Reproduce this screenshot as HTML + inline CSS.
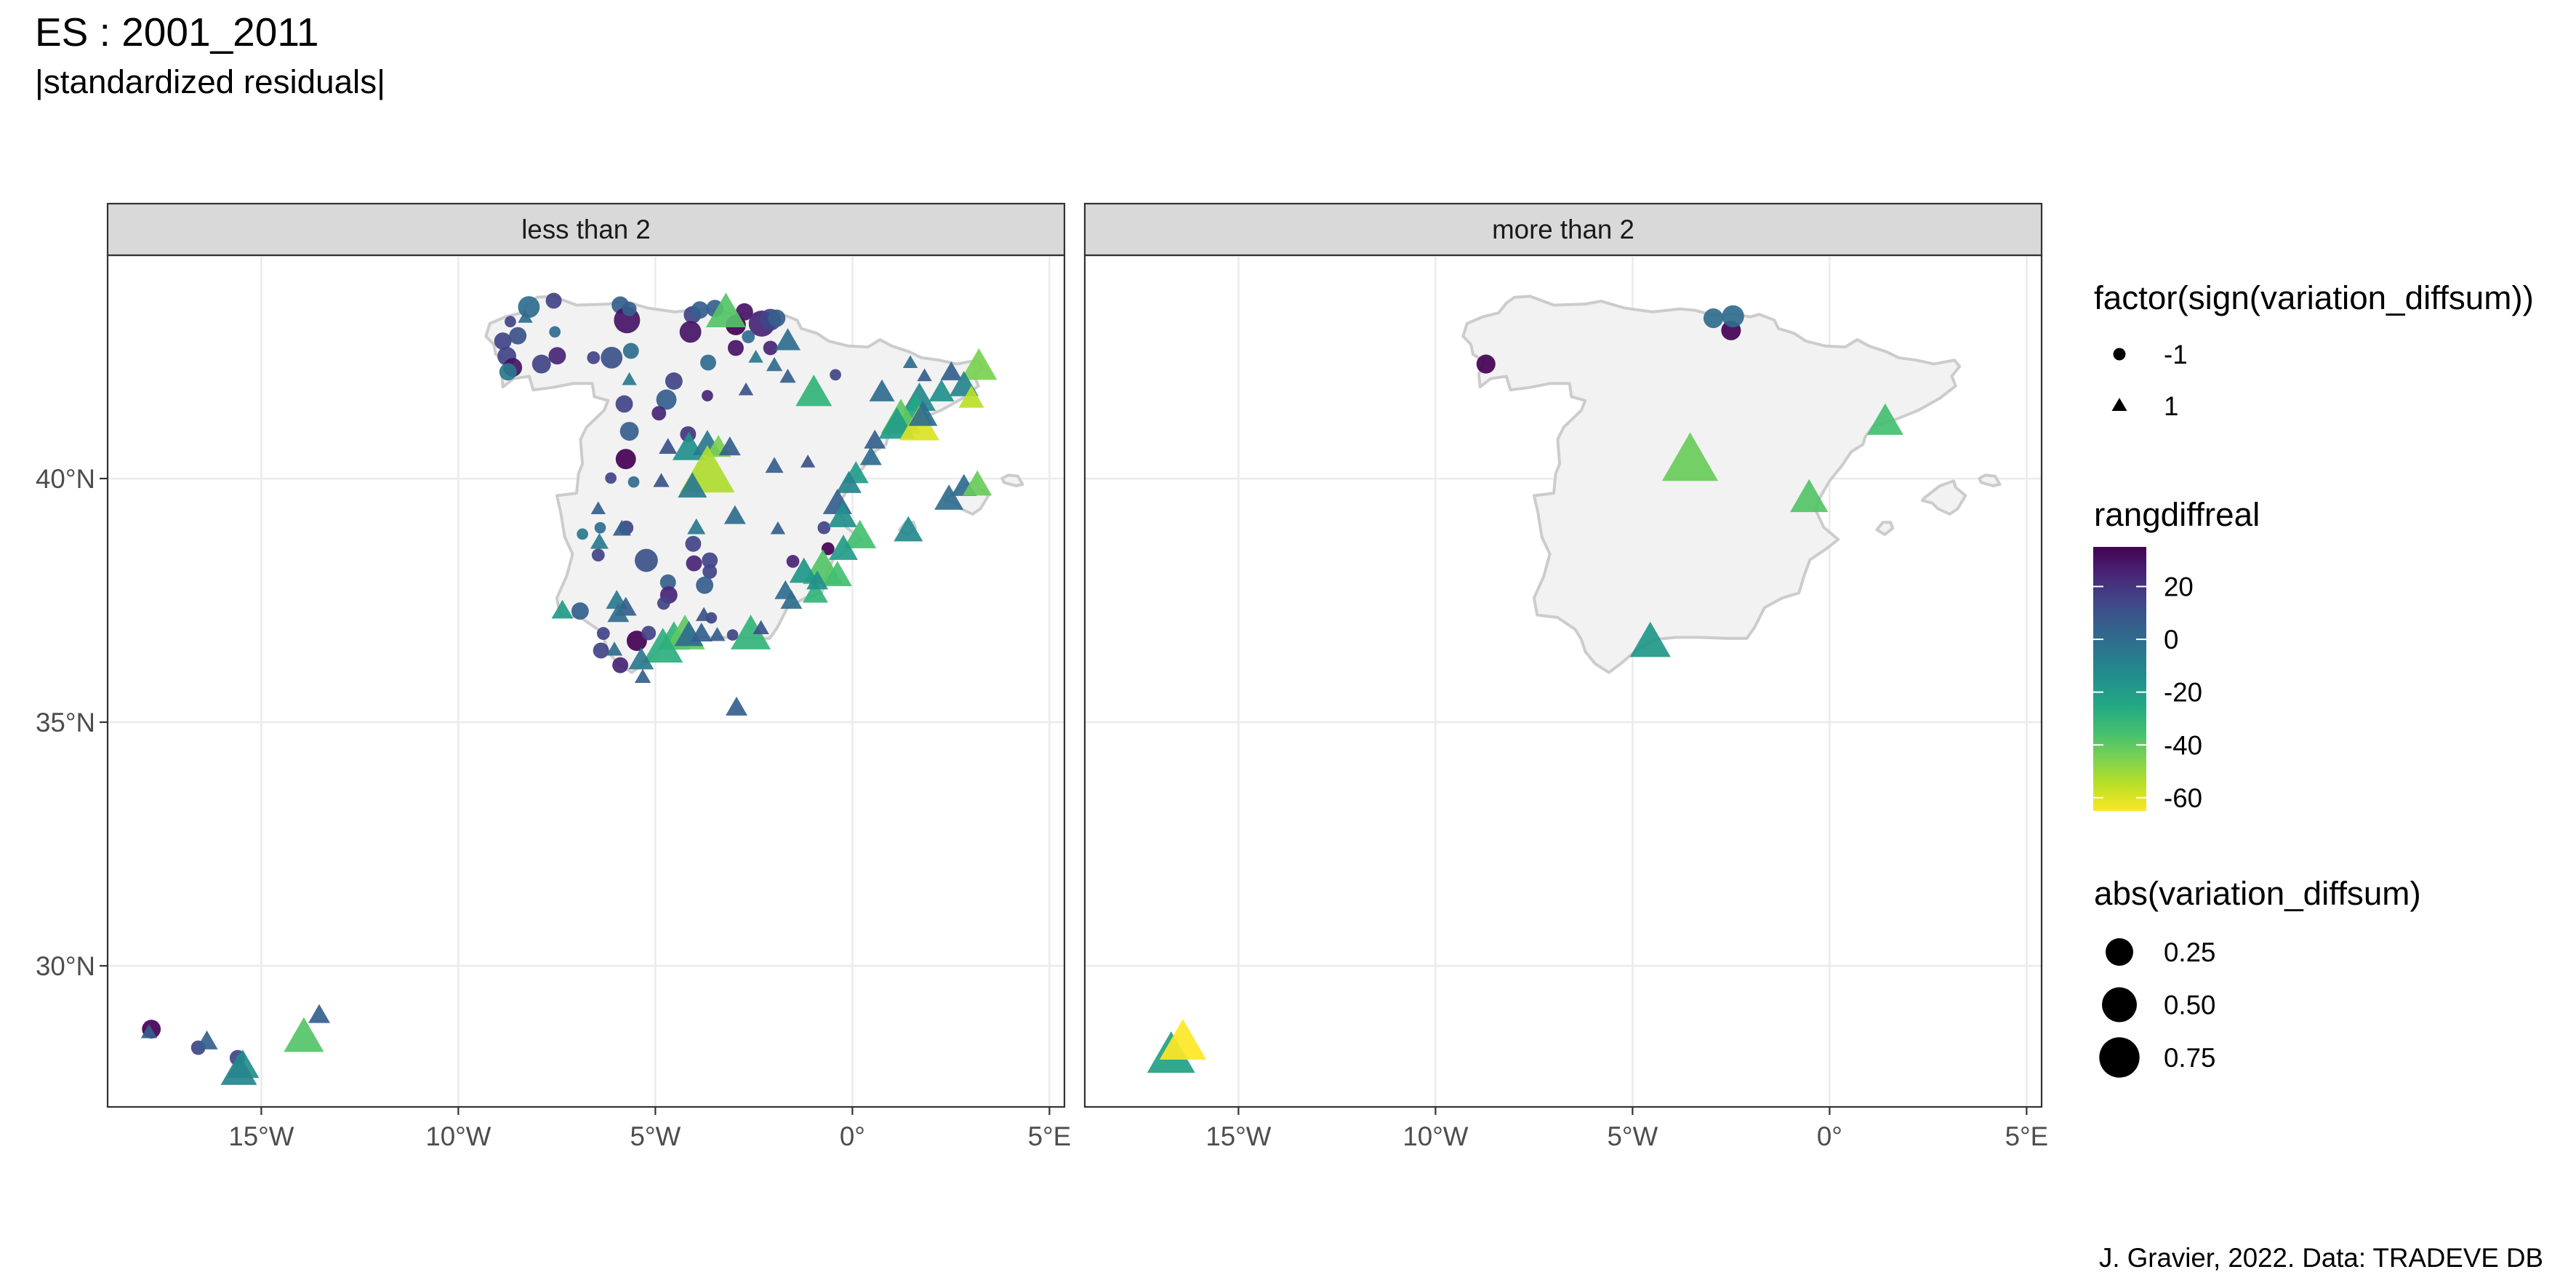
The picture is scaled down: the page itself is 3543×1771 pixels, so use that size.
<!DOCTYPE html>
<html><head><meta charset="utf-8"><style>
html,body{margin:0;padding:0;background:#fff;}
svg{display:block;font-family:"Liberation Sans",Arial,sans-serif;}
</style></head><body>
<svg id="chart" width="3543" height="1771" viewBox="0 0 3543 1771" xmlns="http://www.w3.org/2000/svg">
<defs>
<linearGradient id="vir" x1="0" y1="1" x2="0" y2="0">
<stop offset="0" stop-color="#fde725"/><stop offset="0.1" stop-color="#bbdf27"/><stop offset="0.2" stop-color="#7ad151"/><stop offset="0.3" stop-color="#43bf71"/><stop offset="0.4" stop-color="#22a884"/><stop offset="0.5" stop-color="#21908c"/><stop offset="0.6" stop-color="#2a788e"/><stop offset="0.7" stop-color="#35608d"/><stop offset="0.8" stop-color="#414487"/><stop offset="0.9" stop-color="#482576"/><stop offset="1" stop-color="#440154"/>
</linearGradient>
</defs>
<text x="48" y="63" font-size="55" fill="#000">ES : 2001_2011</text>
<text x="48" y="128" font-size="45.8" fill="#000">|standardized residuals|</text>
<text x="3498" y="1742" font-size="36.7" fill="#000" text-anchor="end">J. Gravier, 2022. Data: TRADEVE DB</text>
<g id="panels"></g>
<g id="legend">
<text x="2880" y="425" font-size="45.8">factor(sign(variation_diffsum))</text>
<circle cx="2915" cy="487" r="8.5" fill="#000"/>
<text x="2976" y="500" font-size="36.7">-1</text>
<polygon points="2904.5,565 2925.5,565 2915,547" fill="#000"/>
<text x="2976" y="571" font-size="36.7">1</text>
<text x="2880" y="723" font-size="45.8">rangdiffreal</text>
<rect x="2879" y="752" width="73" height="363" fill="url(#vir)"/>
<g id="cbticks"></g>
<text x="2880" y="1244" font-size="45.8">abs(variation_diffsum)</text>
<g id="sizeleg"></g>
</g>
</svg>
<script>
// ---- data: panel "less than 2" ----
const circLon1=[-8.21,-7.58,-8.68,-8.87,-8.49,-8.77,-8.62,-8.74,-7.89,-7.49,-7.55,-5.89,-5.72,-5.66,-6.57,-6.11,-5.62,-4.06,-3.87,-4.11,-3.49,-2.96,-2.74,-2.30,-2.08,-1.92,-2.64,-2.96,-2.08,-3.66,-0.43,-4.53,-4.72,-3.68,-4.91,-5.79,-5.66,-4.17,-5.75,-6.13,-5.55,-5.74,-6.40,-6.85,-6.45,-5.23,-4.04,-4.02,-3.62,-3.62,-4.68,-4.66,-4.79,-3.75,-1.51,-0.72,-0.62,-6.91,-6.32,-5.47,-5.17,-5.89,-6.38,-3.58,-3.04,-17.79,-16.60,-15.60];
const circLat1=[43.52,43.65,43.22,42.82,42.93,42.51,42.28,42.19,42.35,42.52,43.01,43.56,43.25,43.48,42.48,42.48,42.62,43.36,43.46,43.01,43.49,43.15,43.42,43.18,43.26,43.29,42.91,42.68,42.68,42.38,42.13,42.00,41.62,41.70,41.34,41.53,40.97,40.91,40.40,40.01,39.93,38.99,38.99,38.86,38.43,38.32,38.66,38.26,38.32,38.09,37.87,37.61,37.44,37.81,38.30,38.99,38.56,37.28,36.82,36.67,36.83,36.17,36.47,37.14,36.79,28.70,28.32,28.11];
const circAbs1=[0.113,0.038,0.02,0.051,0.051,0.068,0.068,0.051,0.068,0.051,0.02,0.051,0.21,0.028,0.022,0.113,0.038,0.051,0.051,0.113,0.051,0.089,0.051,0.21,0.113,0.051,0.022,0.038,0.028,0.038,0.02,0.051,0.089,0.02,0.028,0.051,0.068,0.038,0.089,0.02,0.02,0.028,0.02,0.02,0.022,0.14,0.038,0.038,0.038,0.028,0.038,0.051,0.022,0.051,0.022,0.022,0.022,0.051,0.022,0.089,0.028,0.038,0.038,0.02,0.02,0.068,0.028,0.038];
const circRang1=[0,15,15,15,10,15,30,-5,15,25,0,5,30,5,15,10,0,15,5,30,5,35,30,25,15,5,0,30,25,0,15,15,5,25,25,15,5,20,35,15,0,15,0,-5,15,10,15,25,15,15,5,25,15,5,25,15,35,5,15,35,15,25,15,15,15,35,15,15];
const triLon1=[-8.30,-3.21,-1.64,-2.45,-1.98,-1.64,-5.66,-2.70,-0.98,0.75,1.47,1.83,2.51,3.21,2.83,3.02,2.26,1.70,1.60,1.23,1.13,1.70,1.79,0.57,0.47,-4.15,-3.68,-3.40,-3.11,-3.68,-4.06,-4.68,-4.85,-1.98,-1.13,0.09,-0.09,-0.38,-0.25,0.19,-0.23,-0.75,-0.38,-1.23,-1.70,-1.55,-0.94,-0.89,2.83,3.17,2.45,1.42,-3.96,-2.98,-1.89,-6.42,-6.45,-5.85,-7.36,-5.98,-5.75,-5.94,-3.77,-4.53,-4.25,-4.81,-4.15,-3.83,-3.43,-2.58,-2.32,-5.36,-5.32,-2.94,-6.04,-17.85,-16.38,-15.47,-15.57,-13.92,-13.53];
const triLat1=[43.33,43.46,42.86,42.51,42.35,42.11,42.05,41.84,41.81,41.81,42.40,42.13,42.21,42.35,41.95,41.68,41.81,41.68,41.41,41.28,41.14,41.14,41.34,40.81,40.47,40.67,40.74,40.67,40.67,40.20,39.87,40.67,39.97,40.28,40.36,40.13,39.93,39.53,39.26,38.86,38.59,38.19,38.05,38.12,37.72,37.52,37.68,37.92,39.87,39.91,39.62,38.97,39.02,39.26,38.99,38.72,39.40,38.99,37.32,37.52,37.38,37.25,37.22,36.78,36.85,36.58,36.82,36.85,36.81,36.85,36.95,36.31,35.95,35.33,36.51,28.66,28.48,27.99,27.88,28.59,29.02];
const triAbs1=[0.02,0.35,0.078,0.02,0.021,0.021,0.02,0.02,0.26,0.078,0.02,0.02,0.045,0.26,0.126,0.078,0.078,0.186,0.26,0.35,0.26,0.35,0.126,0.045,0.045,0.186,0.126,0.078,0.045,0.84,0.126,0.026,0.021,0.026,0.02,0.078,0.078,0.126,0.126,0.186,0.126,0.35,0.126,0.126,0.045,0.045,0.078,0.045,0.078,0.126,0.126,0.126,0.026,0.045,0.02,0.026,0.02,0.026,0.045,0.045,0.045,0.045,0.021,0.186,0.35,0.35,0.126,0.045,0.021,0.35,0.021,0.078,0.021,0.045,0.021,0.021,0.045,0.186,0.26,0.35,0.045];
const triRang1=[0,-38,0,-5,0,5,-5,10,-30,0,0,5,5,-45,-10,-55,-15,-12,-25,-40,-20,-60,0,5,0,-15,-5,-45,5,-53,-5,10,10,5,10,-20,-10,5,-15,-35,-20,-38,-35,-18,0,0,-30,-15,0,-42,0,-12,-5,0,5,-5,5,5,-20,-5,5,0,10,-30,-40,-28,0,5,5,-30,10,-5,5,5,0,5,5,-15,-10,-38,5];
// ---- data: panel "more than 2" ----
const circLon2=[-8.72,-2.95,-2.50,-2.45];
const circLat2=[42.35,43.29,43.04,43.33];
const circAbs2=[0.07,0.08,0.08,0.12];
const circRang2=[35,0,35,0];
const triLon2=[-3.54,1.41,-0.52,-4.55,-16.71,-16.41];
const triLat2=[40.45,41.22,39.65,36.70,28.23,28.49];
const triAbs2=[0.9,0.26,0.3,0.37,0.59,0.55];
const triRang2=[-42,-35,-38,-18,-22,-65];
// ---- axes ----
const lonTicks=[-15,-10,-5,0,5];
const lonLabels=["15°W","10°W","5°W","0°","5°E"];
const latTicks=[30,35,40];
const latLabels=["30°N","35°N","40°N"];
const stripLabels=["less than 2","more than 2"];
const cbTicks=[20,0,-20,-40,-60];
const sizeBreaks=[0.25,0.50,0.75];
const sizeLabels=["0.25","0.50","0.75"];
// outlines (lon,lat)
const spain=[[-8.0,43.72],[-7.6,43.74],[-7.0,43.56],[-6.2,43.58],[-5.8,43.64],[-5.2,43.5],[-4.5,43.42],[-3.8,43.48],[-3.4,43.45],[-3.0,43.36],[-2.5,43.38],[-2.0,43.32],[-1.78,43.37],[-1.4,43.25],[-1.3,43.08],[-0.9,42.98],[-0.6,42.82],[-0.1,42.72],[0.4,42.7],[0.7,42.85],[1.0,42.72],[1.45,42.6],[1.75,42.48],[2.2,42.43],[2.65,42.35],[3.17,42.43],[3.3,42.3],[3.1,42.1],[3.2,41.9],[2.8,41.65],[2.25,41.4],[1.7,41.22],[1.1,41.07],[0.9,40.85],[0.85,40.7],[0.55,40.55],[0.3,40.25],[0.0,39.95],[-0.25,39.6],[-0.35,39.35],[-0.15,39.0],[0.22,38.75],[-0.1,38.55],[-0.5,38.33],[-0.65,38.0],[-0.78,37.65],[-1.2,37.55],[-1.65,37.35],[-1.9,36.95],[-2.1,36.72],[-2.6,36.72],[-3.3,36.74],[-3.9,36.74],[-4.4,36.7],[-4.9,36.48],[-5.3,36.2],[-5.6,36.02],[-5.95,36.2],[-6.2,36.45],[-6.3,36.7],[-6.45,36.9],[-6.9,37.15],[-7.42,37.2],[-7.5,37.55],[-7.25,38.0],[-7.1,38.45],[-7.3,38.8],[-7.4,39.3],[-7.5,39.65],[-7.0,39.7],[-6.95,40.1],[-6.85,40.3],[-6.9,40.8],[-6.75,41.05],[-6.3,41.4],[-6.2,41.6],[-6.55,41.68],[-6.6,41.95],[-7.1,41.95],[-7.6,41.87],[-8.1,41.82],[-8.2,42.1],[-8.6,42.05],[-8.87,41.88],[-8.9,42.15],[-8.75,42.4],[-9.05,42.55],[-9.1,42.75],[-9.3,42.92],[-9.2,43.18],[-8.8,43.32],[-8.4,43.4],[-8.2,43.6]];
const mallorca=[[2.35,39.55],[2.6,39.5],[2.75,39.38],[3.05,39.27],[3.25,39.38],[3.45,39.65],[3.2,39.82],[3.15,39.95],[2.8,39.85],[2.4,39.6]];
const menorca=[[3.8,40.0],[3.85,39.92],[4.15,39.85],[4.32,39.88],[4.2,40.05],[3.95,40.07]];
const ibiza=[[1.2,38.95],[1.4,38.85],[1.6,38.98],[1.55,39.1],[1.35,39.1]];
const NS="http://www.w3.org/2000/svg";
const panelLeft=[148,1492], PW=1316, PT=351, PB=1522, ST=280, LONMIN=-18.9, PXD=54.2, Y40=658, PYD=67;
const stops=[[0,[68,1,84]],[0.1,[72,37,118]],[0.2,[65,68,135]],[0.3,[53,96,141]],[0.4,[42,120,142]],[0.5,[33,144,140]],[0.6,[34,168,132]],[0.7,[67,191,113]],[0.8,[122,209,81]],[0.9,[187,223,39]],[1,[253,231,37]]];
function viridis(val){let t=(35-val)/100;t=Math.max(0,Math.min(1,t));for(let i=1;i<stops.length;i++){if(t<=stops[i][0]){const a=stops[i-1],b=stops[i];const f=(t-a[0])/(b[0]-a[0]);const c=a[1].map((v,k)=>Math.round(v+(b[1][k]-v)*f));return `rgb(${c[0]},${c[1]},${c[2]})`;}}return "#fde725";}
function diam(v){return 15.7+46*Math.sqrt(Math.max(0,(v-0.02)/0.98));}
function mk(tag,attrs,parent){const e=document.createElementNS(NS,tag);for(const k in attrs)e.setAttribute(k,attrs[k]);parent.appendChild(e);return e;}
const root=document.getElementById('panels');
function xs(p,lon){return panelLeft[p]+(lon-LONMIN)*PXD;}
function ys(lat){return Y40-(lat-40)*PYD;}
function poly(p,pts){return pts.map(q=>xs(p,q[0]).toFixed(1)+","+ys(q[1]).toFixed(1)).join(" ");}
const datasets=[[circLon1,circLat1,circAbs1,circRang1,triLon1,triLat1,triAbs1,triRang1],[circLon2,circLat2,circAbs2,circRang2,triLon2,triLat2,triAbs2,triRang2]];
for(let p=0;p<2;p++){
  const L=panelLeft[p];
  const g=mk('g',{},root);
  
  
  const strip=mk('rect',{x:L,y:ST,width:PW,height:PT-ST,fill:'#d9d9d9',stroke:'#333','stroke-width':2.2},g);
  
  
  const st=mk('text',{x:L+PW/2,y:328,'font-size':36.7,'text-anchor':'middle',fill:'#1a1a1a'},g);
  st.textContent=stripLabels[p];
  
  
  const clip=mk('clipPath',{id:'clip'+p},g);mk('rect',{x:L,y:PT,width:PW,height:PB-PT},clip);
  const inner=mk('g',{'clip-path':'url(#clip'+p+')'},g);
  lonTicks.forEach((lon,i)=>{const x=xs(p,lon);const gl=mk('line',{x1:x,x2:x,y1:PT,y2:PB,stroke:'#ebebeb','stroke-width':2.5},inner);
    
    mk('line',{x1:x,x2:x,y1:PB,y2:PB+11,stroke:'#333','stroke-width':2.2},g);
    const t=mk('text',{x:x,y:1575,'font-size':36.7,'text-anchor':'middle',fill:'#4d4d4d'},g);t.textContent=lonLabels[i];
    });
  latTicks.forEach((lat,i)=>{const y=ys(lat);const gl=mk('line',{x1:L,x2:L+PW,y1:y,y2:y,stroke:'#ebebeb','stroke-width':2.5},inner);
    
    if(p===0){mk('line',{x1:L-11,x2:L,y1:y,y2:y,stroke:'#333','stroke-width':2.2},g);
      const t=mk('text',{x:L-17,y:y+13,'font-size':36.7,'text-anchor':'end',fill:'#4d4d4d'},g);t.textContent=latLabels[i];
      }});
  [spain,mallorca,menorca,ibiza].forEach(sh=>{const e=mk('polygon',{points:poly(p,sh),fill:'#f2f2f2',stroke:'#cccccc','stroke-width':4,'stroke-linejoin':'round'},inner);
    });
  const d=datasets[p];
  d[0].forEach((lon,i)=>{const c=mk('circle',{cx:xs(p,lon),cy:ys(d[1][i]),r:diam(d[2][i])/2,fill:viridis(d[3][i]),'fill-opacity':0.92},inner);
    });
  d[4].forEach((lon,i)=>{const w=diam(d[6][i])*1.3,h=w*0.866,x=xs(p,lon),y=ys(d[5][i]);
    const t=mk('polygon',{points:`${x-w/2},${y+h/2} ${x+w/2},${y+h/2} ${x},${y-h/2}`,fill:viridis(d[7][i]),'fill-opacity':0.92},inner);
    });
  const b=mk('rect',{x:L,y:PT,width:PW,height:PB-PT,fill:'none',stroke:'#333','stroke-width':2.2},g);
  
}
const cb=document.getElementById('cbticks');
cbTicks.forEach(v=>{const y=752+(35-v)/100*363;
  mk('line',{x1:2879,x2:2893,y1:y,y2:y,stroke:'#fff','stroke-width':2},cb);
  mk('line',{x1:2938,x2:2952,y1:y,y2:y,stroke:'#fff','stroke-width':2},cb);
  const t=mk('text',{x:2976,y:y+13,'font-size':36.7},cb);t.textContent=String(v);
  });
const sl=document.getElementById('sizeleg');
sizeBreaks.forEach((v,i)=>{const y=1309+i*72.5;
  const c=mk('circle',{cx:2915,cy:y,r:diam(v)/2,fill:'#000'},sl);
  
  const t=mk('text',{x:2976,y:y+13,'font-size':36.7},sl);t.textContent=sizeLabels[i];
  });
</script>
</body></html>
